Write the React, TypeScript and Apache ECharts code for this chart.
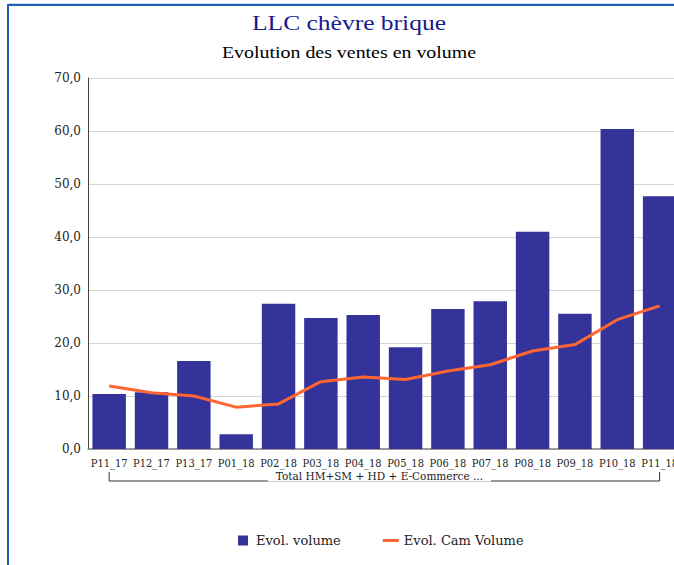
import React, { useEffect, useRef } from "react";
import * as echarts from "echarts";

const categories = ["P11_17", "P12_17", "P13_17", "P01_18", "P02_18", "P03_18", "P04_18", "P05_18", "P06_18", "P07_18", "P08_18", "P09_18", "P10_18", "P11_18"];
const volume = [10.4, 10.7, 16.6, 2.8, 27.4, 24.7, 25.3, 19.2, 26.4, 27.9, 41.0, 25.5, 60.4, 47.7];
const camVolume = [11.9, 10.6, 10.0, 7.9, 8.5, 12.7, 13.6, 13.1, 14.7, 15.9, 18.5, 19.7, 24.4, 27.0];
const groupLabel = "Total HM+SM + HD + E-Commerce ...";
const titleText = "LLC chèvre brique";
const subtitleText = "Evolution des ventes en volume";
const seriesNames = ["Evol. volume", "Evol. Cam Volume"];

const SERIF = "'DejaVu Serif', serif";
const SERIF_COND = "'DejaVu Serif Condensed', 'DejaVu Serif', serif";
const TIMES = "'Liberation Serif', serif";

export default function App() {
  const ref = useRef<HTMLDivElement>(null);
  useEffect(() => {
    document.body.style.margin = "0";
    document.documentElement.style.overflow = "hidden";
    document.body.style.overflow = "hidden";
    const chart = echarts.init(ref.current!, null, { renderer: "svg" });
    const option: any = {
      animation: false,
      backgroundColor: "#ffffff",
      grid: { left: 88, top: 78, bottom: 116, right: 0, containLabel: false },
      legend: {
        top: 529,
        left: 233,
        itemGap: 42,
        itemWidth: 16,
        itemHeight: 10,
        textStyle: { fontFamily: SERIF, fontSize: 13, color: "#222" },
        data: [
          { name: seriesNames[0], icon: "path://M0,0h10v10h-10z" },
          { name: seriesNames[1], icon: "path://M0,0h16v3h-16z" },
        ],
      },
      xAxis: {
        type: "category",
        data: categories,
        axisLine: { lineStyle: { color: "#808080", width: 1.5 } },
        axisTick: { show: false },
        axisLabel: { interval: 0, fontFamily: SERIF_COND, fontSize: 11, color: "#222", margin: 9 },
      },
      yAxis: {
        type: "value",
        min: 0,
        max: 70,
        interval: 10,
        axisLine: { show: true, lineStyle: { color: "#444", width: 1 } },
        axisTick: { show: false },
        splitLine: { lineStyle: { color: "#d4d4d4", width: 1 } },
        axisLabel: {
          fontFamily: SERIF,
          fontSize: 12,
          color: "#222",
          margin: 7,
          formatter: (v: number) => v.toFixed(1).replace(".", ","),
        },
      },
      series: [
        {
          name: seriesNames[0],
          type: "bar",
          data: volume,
          barCategoryGap: "21%",
          itemStyle: { color: "#333399" },
        },
        {
          name: seriesNames[1],
          type: "line",
          data: camVolume,
          symbol: "none",
          lineStyle: { color: "#ff6633", width: 3 },
          itemStyle: { color: "#ff6633" },
        },
      ],
    };
    chart.setOption(option);

    const x0 = chart.convertToPixel({ xAxisIndex: 0 }, categories[0]) as number;
    const x1 = chart.convertToPixel({ xAxisIndex: 0 }, categories[categories.length - 1]) as number;
    const yb = 481;
    chart.setOption({
      graphic: [
        {
          type: "text",
          x: 349,
          y: 23,
          scaleX: 1.16,
          style: { text: titleText, fontFamily: TIMES, fontSize: 22, fill: "#1a1a8c", align: "center", verticalAlign: "middle" },
        },
        {
          type: "text",
          x: 349,
          y: 52,
          scaleX: 1.17,
          style: { text: subtitleText, fontFamily: TIMES, fontSize: 17, fill: "#000000", align: "center", verticalAlign: "middle" },
        },
        {
          type: "rect",
          shape: { x: 8, y: 5, width: 720, height: 620 },
          style: { fill: "none", stroke: "#1f5fb4", lineWidth: 2 },
          z: 100,
        },
        {
          type: "line",
          shape: { x1: 8, y1: 3.5, x2: 720, y2: 3.5 },
          style: { stroke: "#c8d8ee", lineWidth: 1 },
          z: 100,
        },
        {
          type: "polyline",
          shape: { points: [[x0, yb - 9], [x0, yb], [x1, yb], [x1, yb - 9]] },
          style: { fill: "none", stroke: "#333", lineWidth: 1 },
          z: 50,
        },
        {
          type: "text",
          x: (x0 + x1) / 2 - 5,
          y: yb - 5,
          style: {
            text: groupLabel,
            fontFamily: SERIF,
            fontSize: 10.5,
            fill: "#222",
            align: "center",
            verticalAlign: "middle",
            backgroundColor: "#ffffff",
            padding: [0, 8],
          },
          z: 60,
        },
      ],
    });
    return () => chart.dispose();
  }, []);
  return <div ref={ref} style={{ position: "absolute", left: 0, top: 0, width: 681, height: 565, overflow: "hidden" }} />;
}
